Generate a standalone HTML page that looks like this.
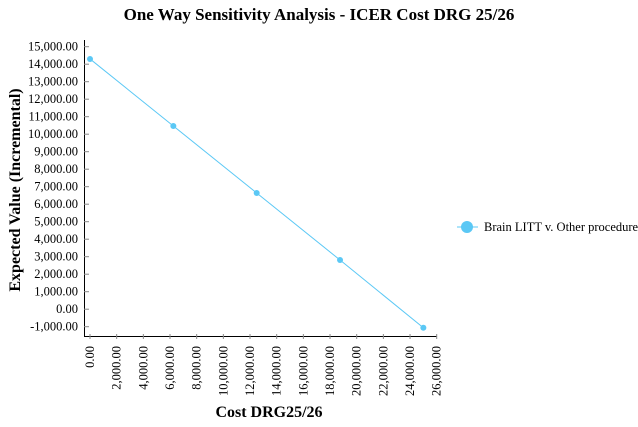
<!DOCTYPE html>
<html><head><meta charset="utf-8"><style>
body{margin:0;background:#fff;font-family:"Liberation Serif",serif}
</style></head><body>
<svg width="638" height="422" xmlns="http://www.w3.org/2000/svg" font-family="Liberation Serif, serif">
<text x="319" y="20" text-anchor="middle" font-size="17" font-weight="bold">One Way Sensitivity Analysis - ICER Cost DRG 25/26</text>
<g id="axes"></g>
<g id="series"></g>
<text x="269" y="417" text-anchor="middle" font-size="16" font-weight="bold">Cost DRG25/26</text>
<text transform="translate(20,190) rotate(-90)" text-anchor="middle" font-size="16" font-weight="bold">Expected Value (Incremental)</text>
<g>
<line x1="457" y1="227" x2="478" y2="227" stroke="#5bc8f5" stroke-width="1"/>
<circle cx="467" cy="227" r="6" fill="#5bc8f5"/>
<text x="484" y="231" font-size="12.5">Brain LITT v. Other procedure</text>
</g>
</svg>
<script>
const xValues=[0,6250,12500,18750,25000];
const yValues=[14300,10470,6640,2810,-1060];
const xTicks=[0,2000,4000,6000,8000,10000,12000,14000,16000,18000,20000,22000,24000,26000];
const yTicks=[15000,14000,13000,12000,11000,10000,9000,8000,7000,6000,5000,4000,3000,2000,1000,0,-1000];
const NS="http://www.w3.org/2000/svg";
const xs=v=>90+v*(346.7/26000);
const ys=v=>46.7+(15000-v)*0.0175;
const fmt=v=>v.toLocaleString('en-US',{minimumFractionDigits:2,maximumFractionDigits:2});
function mk(t,a,p){const e=document.createElementNS(NS,t);for(const k in a)e.setAttribute(k,a[k]);p.appendChild(e);return e;}
const ax=document.getElementById('axes');
const yl=mk('line',{x1:84.5,y1:40,x2:84.5,y2:337,stroke:'#000'},ax);


const xl=mk('line',{x1:84,y1:336.5,x2:437,y2:336.5,stroke:'#000'},ax);


yTicks.forEach(v=>{
 mk('line',{x1:84,y1:ys(v),x2:89,y2:ys(v),stroke:'#888'},ax);
 const t=mk('text',{x:78,y:ys(v)+4,'text-anchor':'end','font-size':12.5},ax);
 t.textContent=fmt(v);
 
 
});
xTicks.forEach(v=>{
 mk('line',{x1:xs(v),y1:334,x2:xs(v),y2:339,stroke:'#888'},ax);
 const t=mk('text',{transform:`translate(${xs(v)+4},346) rotate(-90)`,'text-anchor':'end','font-size':12.5},ax);
 t.textContent=fmt(v);
 
 
});
const s=document.getElementById('series');
const pl=mk('polyline',{points:xValues.map((x,i)=>xs(x)+','+ys(yValues[i])).join(' '),fill:'none',stroke:'#5bc8f5','stroke-width':1},s);


xValues.forEach((x,i)=>{
 const c=mk('circle',{cx:xs(x),cy:ys(yValues[i]),r:3,fill:'#5bc8f5'},s);
 
 
});
</script>
</body></html>
